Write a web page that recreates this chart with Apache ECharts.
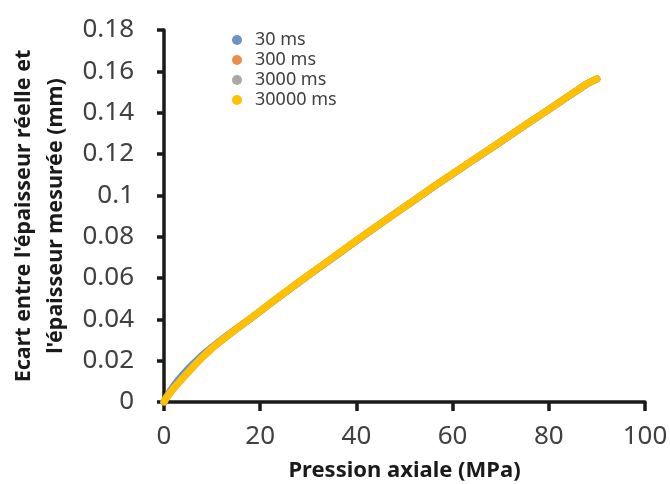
<!DOCTYPE html>
<html>
<head>
<meta charset="utf-8">
<script src="https://cdn.jsdelivr.net/npm/echarts@6/dist/echarts.min.js"></script>
<style>html,body{margin:0;padding:0;background:#fff}#c{width:670px;height:484px}</style>
</head>
<body>
<div id="c"></div>
<script>
var seriesNames = ['30 ms', '300 ms', '3000 ms', '30000 ms'];
var pressure = [0, 0.5, 1, 1.5, 2, 3, 4, 5, 6, 7, 8, 10, 12, 14, 16, 18, 20, 22, 24, 27, 30, 33, 36, 40, 44, 48, 52, 56, 60, 64, 68, 72, 76, 80, 84, 88, 90];
var gap30 = [0, 0.0024, 0.0043, 0.0061, 0.0078, 0.0108, 0.0135, 0.0160, 0.0184, 0.0206, 0.0228, 0.0266, 0.0302, 0.0337, 0.0371, 0.0405, 0.0439, 0.0474, 0.0509, 0.0561, 0.0612, 0.0662, 0.0712, 0.0780, 0.0846, 0.0911, 0.0976, 0.1041, 0.1103, 0.1166, 0.1228, 0.1290, 0.1353, 0.1415, 0.1478, 0.1540, 0.1562];
var gap300 = [0, 0.0021, 0.0037, 0.0052, 0.0067, 0.0093, 0.0119, 0.0145, 0.0170, 0.0194, 0.0218, 0.0261, 0.0299, 0.0335, 0.0370, 0.0404, 0.0439, 0.0475, 0.0510, 0.0562, 0.0613, 0.0663, 0.0713, 0.0781, 0.0846, 0.0911, 0.0976, 0.1041, 0.1104, 0.1167, 0.1228, 0.1291, 0.1354, 0.1416, 0.1479, 0.1541, 0.1563];
var gap3000 = [0, 0.0021, 0.0036, 0.0051, 0.0066, 0.0092, 0.0118, 0.0144, 0.0169, 0.0193, 0.0217, 0.0260, 0.0298, 0.0334, 0.0369, 0.0403, 0.0439, 0.0475, 0.0510, 0.0562, 0.0613, 0.0663, 0.0713, 0.0781, 0.0846, 0.0911, 0.0976, 0.1041, 0.1104, 0.1167, 0.1228, 0.1291, 0.1354, 0.1416, 0.1479, 0.1541, 0.1564];
var gap30000 = [0, 0.0021, 0.0036, 0.0051, 0.0066, 0.0092, 0.0118, 0.0144, 0.0170, 0.0194, 0.0218, 0.0261, 0.0299, 0.0335, 0.0370, 0.0405, 0.0440, 0.0476, 0.0511, 0.0563, 0.0614, 0.0664, 0.0714, 0.0782, 0.0847, 0.0912, 0.0977, 0.1042, 0.1105, 0.1167, 0.1229, 0.1291, 0.1354, 0.1416, 0.1479, 0.1541, 0.1565];
var colors = ['#6a93c6', '#ed8c4a', '#a9a9a9', '#ffc000'];
var xTicks = [0, 20, 40, 60, 80, 100];
var yTicks = [0, 0.02, 0.04, 0.06, 0.08, 0.1, 0.12, 0.14, 0.16, 0.18];

var allData = [gap30, gap300, gap3000, gap30000];
function pairs(arr) { return pressure.map(function (x, i) { return [x, arr[i]]; }); }

var chart = echarts.init(document.getElementById('c'), null, {renderer: 'canvas'});
var axisText = {color: '#404040', fontFamily: 'Noto Sans', fontSize: 26};
chart.setOption({
  animation: false,
  color: colors,
  grid: {left: 164, right: 25, top: 30, bottom: 82, containLabel: false, outerBoundsMode: 'none'},
  legend: {
    orient: 'vertical', left: 232, top: 31, padding: 0, itemGap: 2, itemWidth: 10, itemHeight: 10,
    icon: 'circle',
    textStyle: {color: '#404040', fontFamily: 'Noto Sans', fontSize: 18, lineHeight: 18, padding: [0, 0, 0, 8]},
    data: seriesNames
  },
  xAxis: {
    type: 'value', min: 0, max: 100, interval: 20,
    axisLine: {show: true, onZero: false, lineStyle: {color: '#1a1a1a', width: 3.5}},
    axisTick: {show: true, inside: false, length: 9, lineStyle: {color: '#1a1a1a', width: 3.5}},
    splitLine: {show: false},
    axisLabel: Object.assign({margin: 22, formatter: function (v) { return xTicks.indexOf(v) >= 0 ? String(v) : ''; }}, axisText),
    name: 'Pression axiale (MPa)', nameLocation: 'middle', nameGap: 58,
    nameTextStyle: {color: '#1a1a1a', fontFamily: 'Noto Sans', fontSize: 22, fontWeight: 'bold'}
  },
  yAxis: {
    type: 'value', min: 0, max: 0.18, interval: 0.02,
    axisLine: {show: true, onZero: false, lineStyle: {color: '#1a1a1a', width: 3.5}},
    axisTick: {show: true, inside: false, length: 7, lineStyle: {color: '#1a1a1a', width: 3.5}},
    splitLine: {show: false},
    axisLabel: Object.assign({margin: 30, formatter: function (v) {
      var r = Math.round(v * 100) / 100; return String(r);
    }}, axisText),
    name: "Ecart entre l'épaisseur réelle et\nl'épaisseur mesurée (mm)",
    nameLocation: 'middle', nameGap: 88,
    nameTextStyle: {color: '#1a1a1a', fontFamily: 'Noto Sans', fontSize: 21.5, fontWeight: 'bold', lineHeight: 32}
  },
  series: seriesNames.map(function (n, i) {
    return {
      name: n, type: 'line', data: pairs(allData[i]), showSymbol: false, smooth: false,
      lineStyle: {width: 7, color: colors[i], cap: 'round', join: 'round'},
      itemStyle: {color: colors[i]}, z: 2 + i
    };
  })
});
</script>
</body>
</html>
